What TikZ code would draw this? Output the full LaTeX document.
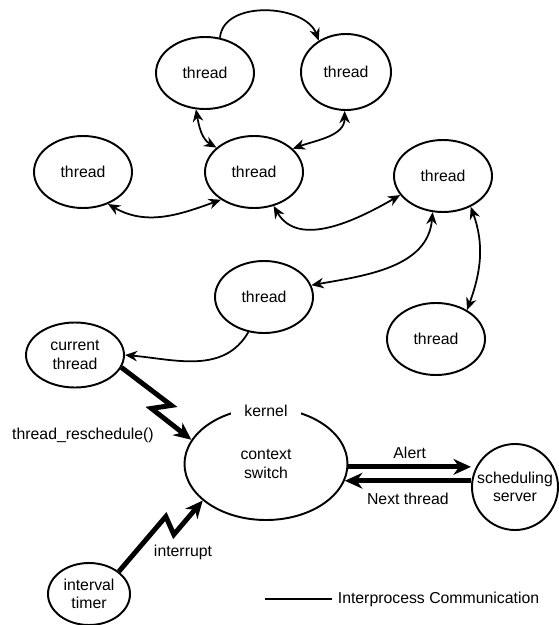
\documentclass[tikz,border=0pt]{standalone}
\usepackage{fontspec}
\setmainfont{Liberation Sans}
\usetikzlibrary{positioning,shapes.geometric,arrows.meta}
\tikzstyle{proc}=[draw,ellipse,line width=1.1pt,align=center,inner sep=1pt]
\tikzstyle{proc thread}=[proc,minimum width=1.96cm,minimum height=1.44cm]
\tikzstyle{proc round}=[draw,circle,line width=1.1pt,align=center,inner sep=0pt,minimum size=1.72cm]
\tikzstyle{connect}=[line width=1pt]
\tikzstyle{connect arrow}=[connect,-{Stealth[length=7pt,width=6pt]}]
\tikzstyle{connect both}=[connect,{Stealth[length=7pt,width=6pt]}-{Stealth[length=7pt,width=6pt]}]
\tikzstyle{heavy arrow}=[line width=2.8pt,-{Stealth[length=10pt,width=9pt]}]

\begin{document}
\begin{tikzpicture}[
    node distance=2cm,
    on grid,
    font=\fontsize{9}{10.5}\selectfont]
\useasboundingbox (0,0) rectangle (11.16,-12.5);

% Threads
\node [proc thread] (thC) at (5.08,-3.44) {thread};
\node [proc thread] (thA) [above left=1.98cm and 0.98cm of thC] {thread};
\node [proc thread, minimum width=1.8cm, minimum height=1.52cm] (thB) [above right=2cm and 1.84cm of thC] {thread};
\node [proc thread] (thD) [left=3.42cm of thC] {thread};
\node [proc thread] (thE) [below right=0.08cm and 3.78cm of thC] {thread};
\node [proc thread] (thF) [below right=2.5cm and 0.2cm of thC] {thread};
\node [proc thread] (thG) [below left=3.26cm and 0.14cm of thE] {thread};

% Kernel side
\node [proc, minimum width=1.96cm, minimum height=1.3cm] (cur) [below left=1.16cm and 3.78cm of thF] {current\\thread};
\node [proc, minimum width=3.26cm, minimum height=2.24cm] (ctx) [below right=3.34cm and 0.04cm of thF] {context\\switch};
\node [fill=white, inner xsep=0.26cm, inner ysep=1pt] (kern) at ([yshift=-0.08cm]ctx.north) {kernel};
\node [proc round] (sched) [below right=0.46cm and 4.98cm of ctx] {scheduling\\server};
\node [proc, minimum width=1.64cm, minimum height=1.24cm] (timer) [below left=2.6cm and 3.54cm of ctx] {interval\\timer};

% Labels
\node (resch) [below right=1.6cm and 0.16cm of cur] {thread\_reschedule()};
\node (intr) [above right=0.84cm and 1.88cm of timer] {interrupt};
\node (leg) [below right=2.7cm and 3.45cm of ctx] {Interprocess Communication};
\coordinate [left=1.34cm of leg.west] (legA);

\begin{scope}[connect both]
    \draw (thA.-104) to[out=-80,in=150] (thC.147);
    \draw (thB.-92) to[out=-90,in=20] (thC.31);
    \draw (thD.-52) to[out=-30,in=-160] (thC.-140);
    \draw (thC.-60) to[out=-60,in=-150] (thE.-156);
    \draw (thE.-106) to[out=-95,in=10] (thF.14);
    \draw (thE.-48) to[out=-70,in=70] (thG.43);
\end{scope}
\draw [connect arrow] (thA.67) to[out=85,in=110] (thB.131);
\draw [connect arrow] (thF.-114) to[out=-120,in=-5] (cur.east);

% heavy arrows
\draw [heavy arrow] (ctx.-2) -- (ctx.-2 -| sched.west) node[midway,above] (alert) {Alert};
\draw [heavy arrow] (ctx.-12 -| sched.west) -- (ctx.-12) node[midway,below=2pt] (nxt) {Next thread};
\draw [heavy arrow] (cur.-15) -- ++(1.0,-0.76) -- ++(-0.4,-0.06) -- (ctx.162);
\draw [heavy arrow] (timer.37) -- ++(0.94,1.1) -- ++(0.16,-0.36) -- (ctx.210);

% legend
\draw [connect] (legA) -- (leg);

\end{tikzpicture}
\end{document}
